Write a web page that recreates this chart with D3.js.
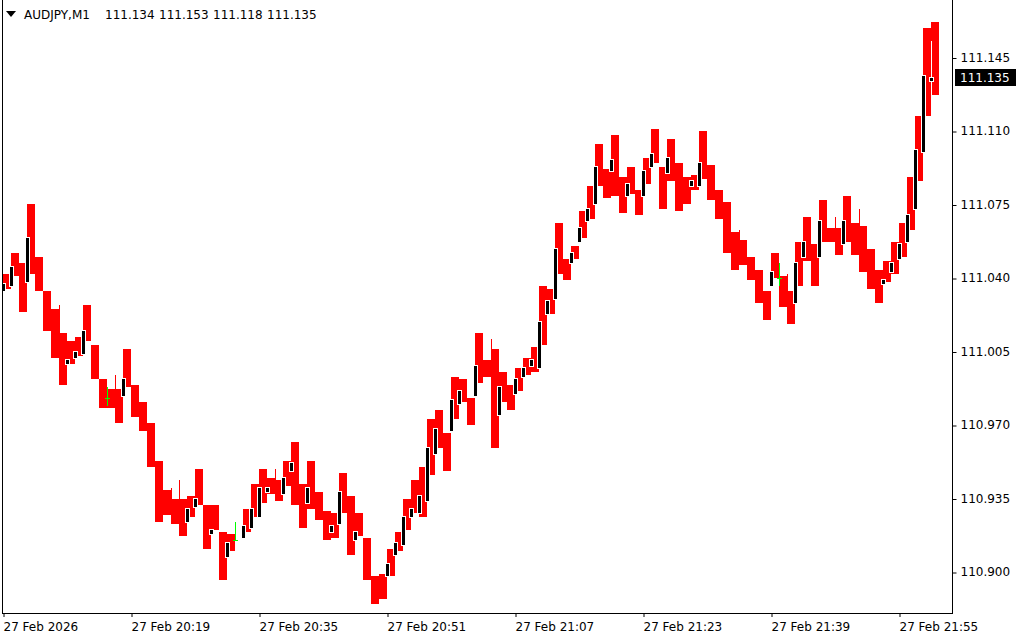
<!DOCTYPE html>
<html><head><meta charset="utf-8">
<script src="https://cdn.jsdelivr.net/npm/d3@7"></script>
<style>
body{margin:0;background:#fff;}
svg{display:block;font-family:"DejaVu Sans",sans-serif;}
</style>
</head><body>
<svg id="c" width="1024" height="640"></svg>
<script>
// ---- data ----
const symbol = "AUDJPY,M1";
const headerValues = ["111.134", "111.153", "111.118", "111.135"];
const lastPrice = 111.135;
const startTime = new Date(2026, 1, 27, 20, 3);

// red blocks, one per minute (index = minutes since 20:03)
const bandHigh = [111.042,111.052,111.047,111.075,111.050,111.034,111.025,111.014,111.010,111.012,
111.027,111.008,110.992,110.987,110.987,111.006,110.989,110.981,110.971,110.953,
110.939,110.935,110.935,110.936,110.949,110.932,110.932,110.919,110.918,null,
110.930,110.942,110.949,110.945,110.944,110.953,110.962,110.942,110.953,110.938,
110.929,110.928,110.947,110.936,110.928,110.916,110.898,110.899,110.911,110.919,
110.935,110.944,110.950,110.973,110.977,110.966,110.993,110.992,110.983,111.014,
111.001,111.006,110.995,110.989,110.997,111.002,111.007,111.036,111.035,111.066,
111.049,111.055,111.072,111.084,111.104,111.092,111.108,111.088,111.093,111.082,
111.097,111.111,111.093,111.106,111.095,111.088,111.089,111.110,111.094,111.082,
111.076,111.062,111.058,111.050,111.044,111.034,111.052,111.041,111.034,111.057,
111.069,111.056,111.077,111.064,111.064,111.079,111.066,111.065,111.054,111.044,
111.048,111.057,111.066,111.088,111.117,111.159,111.162];
const bandLow = [111.035,111.041,111.024,111.042,111.034,111.015,111.002,110.989,110.999,111.003,
111.010,110.992,110.978,110.978,110.971,110.988,110.974,110.967,110.950,110.924,
110.927,110.923,110.917,110.926,110.932,110.911,110.920,110.896,110.910,null,
110.919,110.926,110.933,110.937,110.934,110.941,110.932,110.921,110.930,110.925,
110.915,110.916,110.928,110.908,110.917,110.896,110.885,110.887,110.898,110.910,
110.920,110.928,110.926,110.946,110.959,110.948,110.973,110.981,110.970,110.990,
110.993,110.959,110.981,110.977,110.986,110.994,110.995,111.008,111.023,111.042,
111.039,111.049,111.059,111.068,111.084,111.078,111.079,111.071,111.080,111.070,
111.085,111.095,111.073,111.086,111.072,111.075,111.082,111.087,111.077,111.068,
111.052,111.044,111.046,111.039,111.028,111.020,111.040,111.026,111.018,111.036,
111.048,111.036,111.057,111.057,111.051,111.057,111.051,111.043,111.035,111.028,
111.038,111.042,111.050,111.063,111.086,111.117,111.127];

// bull candles (black body, white outline)
const bullIndex = [0,1,3,8,9,10,15,23,24,26,28,30,31,32,33,35,36,38,41,42,44,48,49,50,51,52,53,54,56,57,59,62,64,65,66,67,68,69,71,72,73,74,76,78,80,81,83,86,87,96,99,100,102,105,110,111,112,113,114,115,116];
const bullOpen = [111.034,111.036,111.038,110.999,111.002,111.004,110.984,110.924,110.931,110.918,110.907,110.916,110.921,110.926,110.938,110.937,110.948,110.933,110.919,110.923,110.915,110.898,110.908,110.913,110.926,110.928,110.934,110.956,110.967,110.980,110.984,110.975,110.985,110.993,110.998,110.997,111.023,111.030,111.047,111.057,111.067,111.075,111.091,111.079,111.079,111.093,111.090,111.084,111.084,111.036,111.028,111.050,111.050,111.056,111.037,111.043,111.049,111.057,111.073,111.100,111.134];
const bullClose = [111.037,111.045,111.059,111.001,111.005,111.015,110.992,110.930,110.935,110.920,110.914,110.922,110.930,110.940,110.940,110.945,110.952,110.940,110.922,110.938,110.919,110.904,110.914,110.926,110.930,110.936,110.959,110.968,110.982,110.986,110.998,110.988,110.992,110.997,111.001,111.019,111.029,111.054,111.052,111.064,111.073,111.093,111.096,111.085,111.091,111.099,111.097,111.086,111.095,111.043,111.047,111.057,111.067,111.067,111.039,111.047,111.056,111.070,111.101,111.136,111.135];
const bullWickIndex = [116];
const bullWickHigh = [111.153];
const bullWickLow = [111.118];

// bear wicks visible above the red blocks
const bearWickIndex = [7,14,21,22,34,61,92,98,104,107];
const bearWickHigh = [111.027,110.994,110.940,110.944,110.949,111.011,111.063,111.042,111.069,111.073];

// doji crosses
const dojiIndex = [13,29,97];
const dojiHigh = [110.988,110.924,111.047];
const dojiLow = [110.979,110.915,111.036];
const dojiPrice = [110.983,110.915,111.040];

// axes
const yTicks = [110.900,110.935,110.970,111.005,111.040,111.075,111.110,111.145];
const xTickMinutes = [0,16,32,48,64,80,96,112];
const xTickLabels = ["27 Feb 2026","27 Feb 20:19","27 Feb 20:35","27 Feb 20:51","27 Feb 21:07","27 Feb 21:23","27 Feb 21:39","27 Feb 21:55"];

// ---- drawing ----
const svg = d3.select("#c");
const minute = i => new Date(startTime.getTime() + i * 60000);
const x = d3.scaleTime().domain([minute(0), minute(116)]).range([3, 931]);
const y = d3.scaleLinear().domain([110.900, 111.110]).range([572, 131]);
const X = i => Math.round(x(minute(i)));
const Y = p => Math.round(y(p));
const step = X(1) - X(0);

svg.append("defs").append("clipPath").attr("id","plot")
  .append("rect").attr("x",3).attr("y",0).attr("width",949).attr("height",613);
const g = svg.append("g").attr("clip-path","url(#plot)").attr("shape-rendering","crispEdges");

// red blocks
g.selectAll("rect.band").data(d3.range(bandHigh.length).filter(i => bandHigh[i] != null))
  .join("rect").attr("class","band")
  .attr("x", i => X(i)).attr("width", step)
  .attr("y", i => Y(bandHigh[i]))
  .attr("height", i => Math.max(1, Y(bandLow[i]) - Y(bandHigh[i])))
  .attr("fill", "#ff0000");

// bear wicks
g.selectAll("rect.bw").data(bearWickIndex).join("rect").attr("class","bw")
  .attr("x", i => X(i)).attr("width", 1)
  .attr("y", (i, j) => Y(bearWickHigh[j]))
  .attr("height", (i, j) => Math.max(1, Y(bandHigh[i]) - Y(bearWickHigh[j])))
  .attr("fill", "#ff0000");

// bull wicks (white)
g.selectAll("rect.uw").data(bullWickIndex).join("rect").attr("class","uw")
  .attr("x", i => X(i)).attr("width", 1)
  .attr("y", (i, j) => Y(bullWickHigh[j]))
  .attr("height", (i, j) => Y(bullWickLow[j]) - Y(bullWickHigh[j]))
  .attr("fill", "#ffffff");

// bull candles
const bulls = bullIndex.map((i, j) => ({i, top: Y(bullClose[j]), bot: Y(bullOpen[j])}));
g.selectAll("rect.bo").data(bulls).join("rect").attr("class","bo")
  .attr("x", d => X(d.i) - 2).attr("width", 5)
  .attr("y", d => d.top - 1).attr("height", d => Math.max(1, d.bot - d.top) + 2)
  .attr("fill", "#ffffff");
g.selectAll("rect.bb").data(bulls).join("rect").attr("class","bb")
  .attr("x", d => X(d.i) - 1).attr("width", 3)
  .attr("y", d => d.top).attr("height", d => Math.max(1, d.bot - d.top))
  .attr("fill", "#000000");

// doji
dojiIndex.forEach((i, j) => {
  g.append("rect").attr("x", X(i)).attr("width", 1)
    .attr("y", Y(dojiHigh[j])).attr("height", Y(dojiLow[j]) - Y(dojiHigh[j]))
    .attr("fill", "#00ff00");
  g.append("rect").attr("x", X(i) - 2).attr("width", 5)
    .attr("y", Y(dojiPrice[j])).attr("height", 1).attr("fill", "#00ff00");
});

// frame
const frame = svg.append("g").attr("shape-rendering","crispEdges").attr("fill","#000");
frame.append("rect").attr("x",2).attr("y",0).attr("width",1).attr("height",614);
frame.append("rect").attr("x",2).attr("y",613).attr("width",951).attr("height",1);
frame.append("rect").attr("x",952).attr("y",0).attr("width",1).attr("height",614);

// y axis
const ya = svg.append("g").attr("transform","translate(952.5,0)")
  .call(d3.axisRight(y).tickValues(yTicks).tickFormat(d3.format(".3f")).tickSize(4).tickPadding(4));
ya.select(".domain").remove();
ya.selectAll("line").attr("stroke","#000").attr("transform","translate(0,0.5)");
ya.selectAll("text").attr("fill","#000").style("font-size","12px").style("font-family","DejaVu Sans");

// x axis
const xa = svg.append("g").attr("transform","translate(0.5,613)")
  .call(d3.axisBottom(x).tickValues(xTickMinutes.map(minute)).tickFormat((d,i)=>xTickLabels[i]).tickSize(4).tickPadding(5));
xa.select(".domain").remove();
xa.selectAll("line").attr("stroke","#000");
xa.selectAll("text").attr("text-anchor","start").attr("x",-0.5).attr("fill","#000")
  .style("font-size","12px").style("font-family","DejaVu Sans");

// current price label
svg.append("rect").attr("x",955).attr("y",Y(lastPrice)-9).attr("width",61).attr("height",17).attr("fill","#000");
svg.append("text").attr("x",960).attr("y",Y(lastPrice)+4).attr("fill","#fff")
  .style("font-size","12px").text(d3.format(".3f")(lastPrice));

// header
svg.append("path").attr("d","M6,11L16,11L11,17Z").attr("fill","#000");
const hx = [24,105,159,213,267];
[symbol, ...headerValues].forEach((t, i) => {
  svg.append("text").attr("x",hx[i]).attr("y",19).attr("fill","#000").style("font-size","12px").text(t);
});
</script>
</body></html>
